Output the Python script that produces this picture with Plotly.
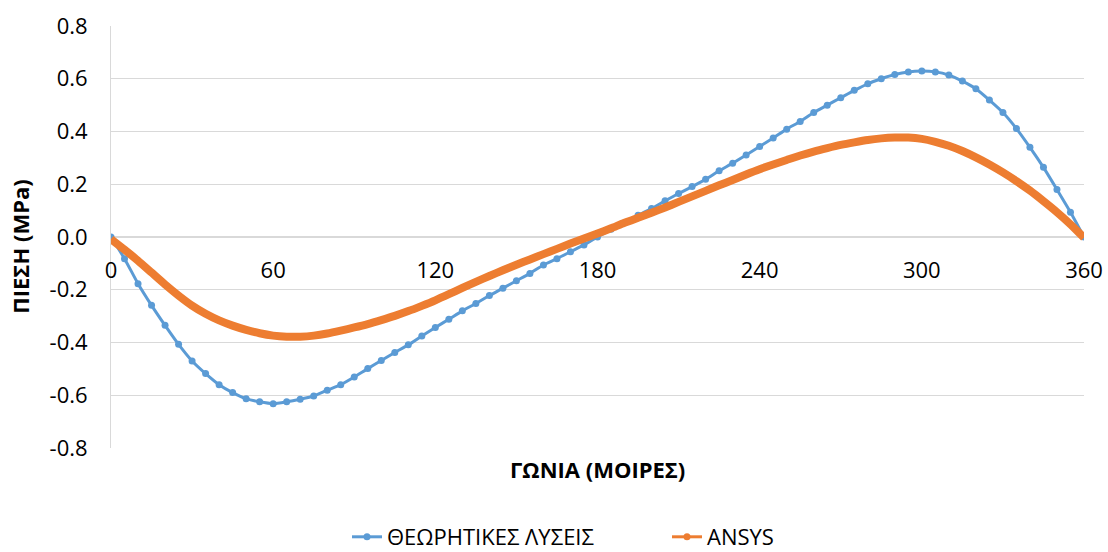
import plotly.graph_objects as go

# Angle (degrees) for both series, 5-degree steps
angle = list(range(0, 361, 5))

# ΘΕΩΡΗΤΙΚΕΣ ΛΥΣΕΙΣ (theoretical solution), MPa
theory = [
    0.000, -0.082, -0.177, -0.259, -0.335, -0.407, -0.470, -0.518, -0.560, -0.590,
    -0.613, -0.625, -0.632, -0.625, -0.615, -0.603, -0.581, -0.560, -0.531, -0.499,
    -0.468, -0.438, -0.409, -0.375, -0.343, -0.312, -0.280, -0.252, -0.222, -0.194,
    -0.166, -0.138, -0.106, -0.082, -0.056, -0.030, 0.000, 0.029, 0.054, 0.082,
    0.108, 0.137, 0.165, 0.191, 0.219, 0.251, 0.280, 0.311, 0.343, 0.375,
    0.409, 0.438, 0.472, 0.500, 0.528, 0.556, 0.581, 0.600, 0.616, 0.626,
    0.629, 0.626, 0.614, 0.591, 0.562, 0.519, 0.472, 0.411, 0.340, 0.264,
    0.180, 0.094, 0.000,
]

# ANSYS results, MPa
ansys = [
    -0.008, -0.048, -0.090, -0.135, -0.180, -0.222, -0.260, -0.291, -0.316, -0.336,
    -0.352, -0.365, -0.374, -0.378, -0.378, -0.374, -0.366, -0.355, -0.343, -0.330,
    -0.315, -0.299, -0.281, -0.261, -0.240, -0.217, -0.193, -0.170, -0.148, -0.126,
    -0.105, -0.085, -0.065, -0.045, -0.025, -0.006, 0.013, 0.033, 0.054, 0.073,
    0.092, 0.112, 0.133, 0.154, 0.175, 0.196, 0.216, 0.237, 0.257, 0.275,
    0.292, 0.309, 0.324, 0.337, 0.349, 0.359, 0.368, 0.374, 0.377, 0.377,
    0.372, 0.361, 0.346, 0.326, 0.302, 0.275, 0.245, 0.212, 0.176, 0.136,
    0.094, 0.048, -0.003,
]

x_ticks = [0, 60, 120, 180, 240, 300, 360]
y_ticks = [-0.8, -0.6, -0.4, -0.2, 0.0, 0.2, 0.4, 0.6, 0.8]
y_ticktext = ["-0.8", "-0.6", "-0.4", "-0.2", "0.0", "0.2", "0.4", "0.6", "0.8"]

BLUE = "#5B9BD5"
ORANGE = "#ED7D31"
GRID = "#D9D9D9"
FONT = "Open Sans"

fig = go.Figure()

fig.add_trace(go.Scatter(
    x=angle, y=theory, name="ΘΕΩΡΗΤΙΚΕΣ ΛΥΣΕΙΣ", mode="lines+markers",
    line=dict(color=BLUE, width=3, shape="spline", smoothing=0.6),
    marker=dict(color=BLUE, size=7), legendgroup="a",
))

fig.add_trace(go.Scatter(
    x=angle, y=ansys, name="ANSYS", mode="lines",
    line=dict(color=ORANGE, width=8, shape="spline", smoothing=0.6),
    showlegend=False, legendgroup="b",
))
# legend-only entry for ANSYS (thin line + marker like the original)
fig.add_trace(go.Scatter(
    x=[None], y=[None], name="ANSYS", mode="lines+markers",
    line=dict(color=ORANGE, width=3), marker=dict(color=ORANGE, size=7),
    legendgroup="b",
))

fig.update_layout(
    width=1108, height=552,
    margin=dict(l=111, r=24, t=26, b=104, autoexpand=False),
    paper_bgcolor="white", plot_bgcolor="white",
    font=dict(family=FONT, size=22, color="#000000"),
    showlegend=True,
    legend=dict(orientation="h", xref="container", yref="container",
                x=347 / 1108, xanchor="left", y=15 / 552, yanchor="middle",
                font=dict(size=22), traceorder="normal",
                entrywidth=275, entrywidthmode="pixels"),
    xaxis=dict(range=[0, 360], tickvals=x_ticks, ticktext=[str(v) for v in x_ticks],
               showgrid=False, zeroline=False, showline=False,
               anchor="free", position=0.5, ticks="", ticklabelstandoff=18,
               tickfont=dict(size=22)),
    yaxis=dict(range=[-0.8, 0.8], tickvals=y_ticks, ticktext=y_ticktext,
               showgrid=True, gridcolor=GRID, gridwidth=1,
               zeroline=True, zerolinecolor=GRID, zerolinewidth=1.5,
               showline=True, linecolor=GRID, linewidth=1,
               ticks="", ticklabelstandoff=18, tickfont=dict(size=22)),
    annotations=[
        dict(text="<b>ΓΩΝΙΑ (ΜΟΙΡΕΣ)</b>", xref="paper", yref="paper",
             x=0.5, y=-0.05, xanchor="center", yanchor="middle",
             showarrow=False, font=dict(size=22)),
        dict(text="<b>ΠΙΕΣΗ (MPa)</b>", xref="paper", yref="paper",
             x=-0.093, y=0.476, xanchor="center", yanchor="middle",
             textangle=-90, showarrow=False, font=dict(size=22)),
    ],
)

fig.write_html("out.html")
